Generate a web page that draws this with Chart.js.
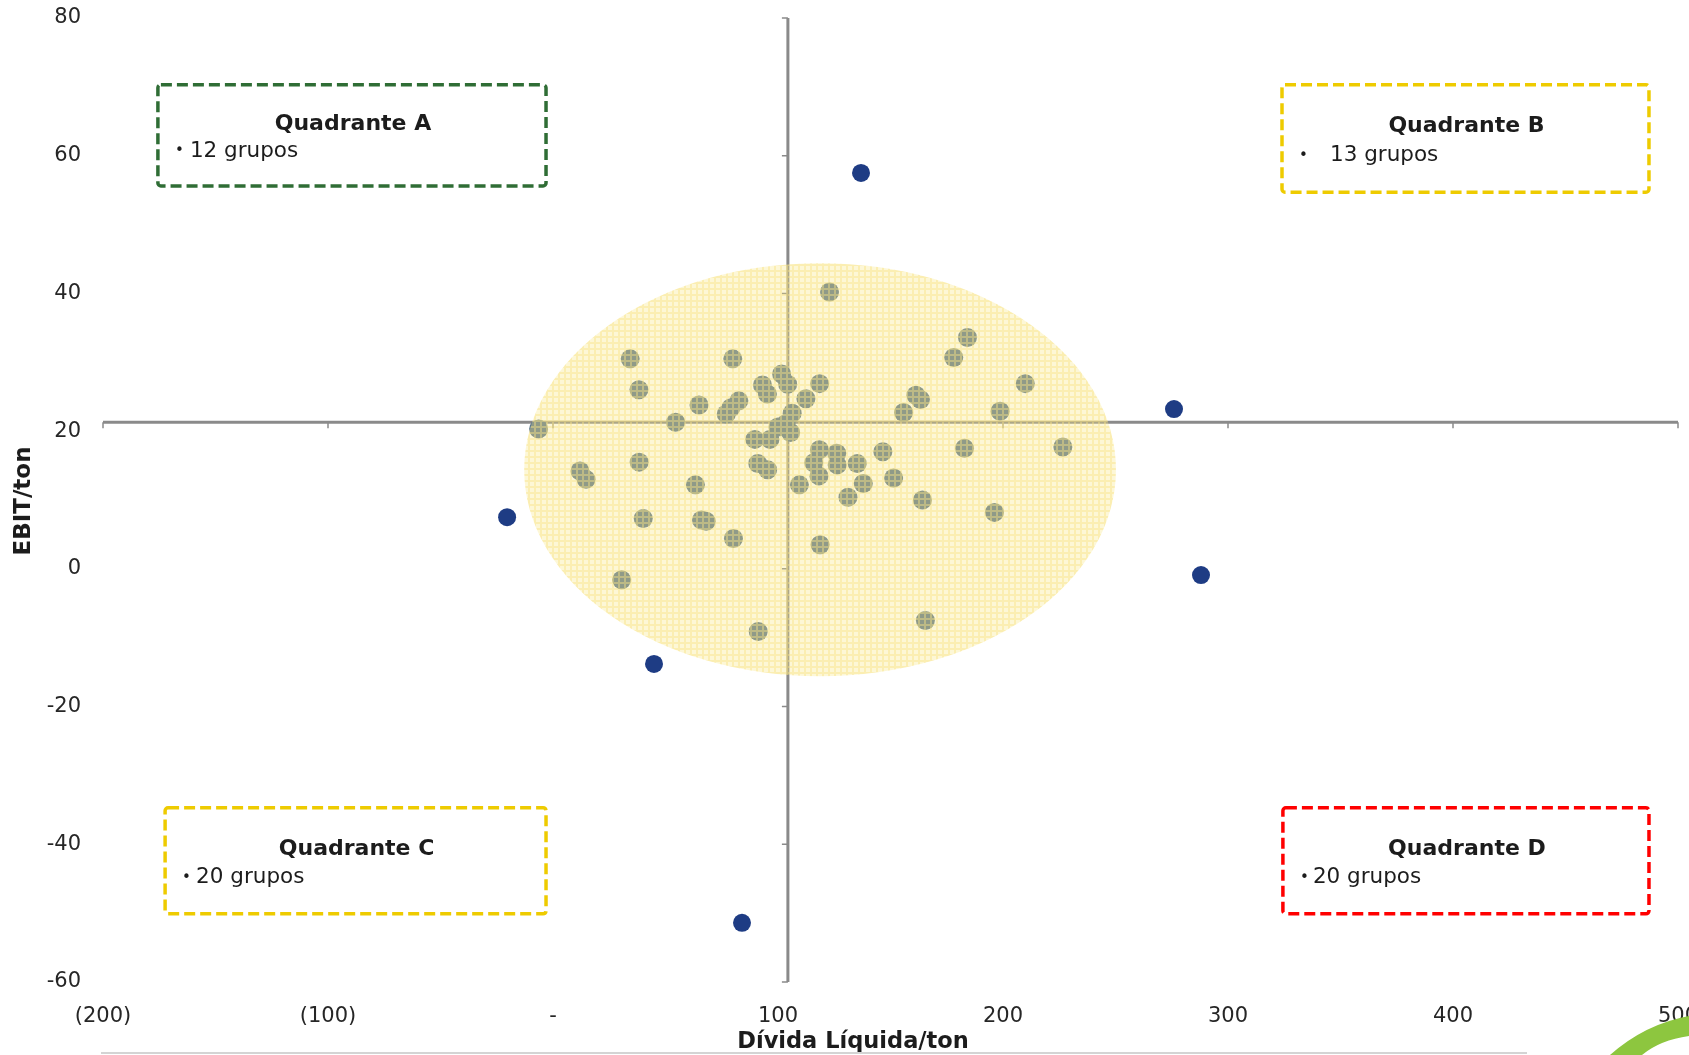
<!DOCTYPE html>
<html>
<head>
<meta charset="utf-8">
<title>EBIT/ton x Dívida Líquida/ton</title>
<script src="https://cdn.jsdelivr.net/npm/chart.js@4/dist/chart.umd.min.js"></script>
<style>
  html, body { margin: 0; padding: 0; background: #ffffff; }
  #wrap { width: 1689px; height: 1055px; position: relative; overflow: hidden; }
  canvas { display: block; }
</style>
</head>
<body>
<div id="wrap"><canvas id="chart" width="1689" height="1055"></canvas></div>
<script>
// Groups inside the central cloud: Dívida Líquida/ton (x) and EBIT/ton (y)
const groupDebt = [
  122.9, 184.2, 178.1, 34.3, 79.9, 209.9, 38.2, 101.6, 93.1, 95.3,
  104.3, 118.5, 112.4, 82.6, 79.1, 77.0, 64.9, 161.3, 163.3, 155.8,
  198.7, 54.5, 106.3, 103.6, 100.0, 105.6, -6.4, 96.4, 89.7, 182.9,
  226.6, 118.4, 146.6, 126.1, 115.9, 126.3, 135.2, 38.3, 91.0, 95.4,
  12.0, 14.7, 118.2, 151.4, 63.3, 109.5, 137.9, 131.1, 164.2, 196.2,
  40.1, 66.0, 68.1, 80.2, 118.7, 30.5, 91.2, 165.5
];
const groupEbit = [
  40.2, 33.6, 30.7, 30.5, 30.5, 26.9, 26.0, 28.3, 26.7, 25.4,
  26.8, 26.9, 24.7, 24.4, 23.4, 22.5, 23.8, 25.2, 24.6, 22.7,
  22.9, 21.3, 22.6, 21.1, 20.6, 19.8, 20.3, 18.8, 18.8, 17.5,
  17.7, 17.3, 17.0, 16.8, 15.4, 15.1, 15.3, 15.5, 15.3, 14.4,
  14.2, 13.0, 13.5, 13.2, 12.2, 12.2, 12.4, 10.4, 10.0, 8.2,
  7.3, 7.1, 6.9, 4.4, 3.5, -1.6, -9.1, -7.5
];

// Groups outside the cloud
const outlierDebt = [136.9, 276.0, 288.0, -20.4, 44.9, 84.0];
const outlierEbit = [57.5, 23.2, -0.9, 7.5, -13.8, -51.4];

// Axis ticks
const debtTicks = [-200, -100, 0, 100, 200, 300, 400, 500];
const ebitTicks = [-60, -40, -20, 0, 20, 40, 60, 80];

// Where the two axes cross
const debtCross = 104.4;
const ebitCross = 21.3;

// Central cloud (centre and half-widths, in axis units)
const cloudCentre = [118.7, 14.4];
const cloudRadius = [131.5, 30.0];

// Quadrant captions
const quadrantTitles = ['Quadrante A', 'Quadrante B', 'Quadrante C', 'Quadrante D'];
const quadrantCounts = ['12 grupos', '13 grupos', '20 grupos', '20 grupos'];

// Caption boxes: extents in axis units and look
const captionBoxes = [
  { x0: -175.6, x1: -3.1, y0: 70.3, y1: 55.6, color: '#2f6d35', bulletGap: 15 },
  { x0: 324.0, x1: 487.1, y0: 70.3, y1: 54.7, color: '#eecb00', bulletGap: 31 },
  { x0: -172.4, x1: -3.1, y0: -34.7, y1: -50.1, color: '#eecb00', bulletGap: 14 },
  { x0: 324.4, x1: 487.1, y0: -34.7, y1: -50.1, color: '#ff0000', bulletGap: 13 }
];

const FONT = '"DejaVu Sans", Verdana, sans-serif';
const TEXT = '#1c1c1c';

// Light yellow cross-hatch used to fill the cloud
function makeCloudPattern(ctx) {
  const p = document.createElement('canvas');
  p.width = 6; p.height = 6;
  const g = p.getContext('2d');
  g.fillStyle = 'rgba(248, 228, 130, 0.62)';
  g.fillRect(0, 0, 6, 6);
  g.clearRect(2, 2, 4, 4);
  g.fillStyle = 'rgba(250, 230, 128, 0.32)';
  g.fillRect(2, 2, 4, 4);
  return ctx.createPattern(p, 'repeat');
}

const decor = {
  id: 'decor',
  beforeDatasetsDraw(chart) {
    const { ctx, chartArea: a, scales: { x, y } } = chart;
    const px = x.getPixelForValue(debtCross);
    const py = y.getPixelForValue(ebitCross);
    ctx.save();
    ctx.strokeStyle = '#8a8a8a';
    ctx.lineWidth = 3;
    ctx.beginPath();
    ctx.moveTo(a.left, py); ctx.lineTo(a.right, py);
    ctx.moveTo(px, a.top); ctx.lineTo(px, a.bottom);
    ctx.stroke();
    ctx.lineWidth = 1.5;
    ctx.beginPath();
    debtTicks.forEach(v => {
      const t = x.getPixelForValue(v);
      ctx.moveTo(t, py); ctx.lineTo(t, py + 6);
    });
    ebitTicks.forEach(v => {
      const t = y.getPixelForValue(v);
      ctx.moveTo(px, t); ctx.lineTo(px - 6, t);
    });
    ctx.stroke();
    ctx.restore();
  },
  afterDatasetsDraw(chart) {
    const { ctx, scales: { x, y } } = chart;
    const cx = x.getPixelForValue(cloudCentre[0]);
    const cy = y.getPixelForValue(cloudCentre[1]);
    const rx = Math.abs(x.getPixelForValue(cloudCentre[0] + cloudRadius[0]) - cx);
    const ry = Math.abs(y.getPixelForValue(cloudCentre[1] + cloudRadius[1]) - cy);
    ctx.save();
    ctx.beginPath();
    ctx.ellipse(cx, cy, rx, ry, 0, 0, Math.PI * 2);
    ctx.fillStyle = makeCloudPattern(ctx);
    ctx.fill();
    ctx.restore();
  },
  afterDraw(chart) {
    const { ctx, scales: { x, y } } = chart;
    ctx.save();

    // Quadrant caption boxes
    captionBoxes.forEach((b, i) => {
      const l = x.getPixelForValue(b.x0), r = x.getPixelForValue(b.x1);
      const t = y.getPixelForValue(b.y0), btm = y.getPixelForValue(b.y1);
      ctx.setLineDash([11, 5]);
      ctx.lineWidth = 3.5;
      ctx.strokeStyle = b.color;
      ctx.beginPath();
      ctx.roundRect(l, t, r - l, btm - t, 3);
      ctx.stroke();
      ctx.setLineDash([]);
      const h = btm - t;
      ctx.fillStyle = TEXT;
      ctx.textBaseline = 'middle';
      ctx.textAlign = 'center';
      ctx.font = 'bold 22px ' + FONT;
      ctx.fillText(quadrantTitles[i], (l + r) / 2 + 1, t + h * 0.39);
      ctx.textAlign = 'left';
      ctx.font = '15px ' + FONT;
      ctx.fillText('\u2022', l + 17, t + h * 0.66);
      ctx.font = '21.5px ' + FONT;
      ctx.fillText(quadrantCounts[i], l + 17 + b.bulletGap, t + h * 0.66);
    });

    // Axis titles
    ctx.fillStyle = TEXT;
    ctx.font = 'bold 22.5px ' + FONT;
    ctx.textAlign = 'center';
    ctx.textBaseline = 'middle';
    ctx.fillText('D\u00edvida L\u00edquida/ton', 853, 1042);
    ctx.save();
    ctx.translate(24, 501);
    ctx.rotate(-Math.PI / 2);
    ctx.font = 'bold 23px ' + FONT;
    ctx.fillText('EBIT/ton', 0, 0);
    ctx.restore();

    // Footer rule and corner swoosh
    ctx.strokeStyle = '#d4d4d4';
    ctx.lineWidth = 2;
    ctx.beginPath();
    ctx.moveTo(101, 1053); ctx.lineTo(1527, 1053);
    ctx.stroke();
    ctx.fillStyle = '#8dc63f';
    ctx.beginPath();
    ctx.moveTo(1610, 1055);
    ctx.quadraticCurveTo(1645, 1024, 1689, 1016);
    ctx.lineTo(1689, 1036);
    ctx.quadraticCurveTo(1660, 1040, 1642, 1055);
    ctx.closePath();
    ctx.fill();
    ctx.restore();
  }
};

const toPoints = (xs, ys) => xs.map((v, i) => ({ x: v, y: ys[i] }));

new Chart(document.getElementById('chart'), {
  type: 'scatter',
  data: {
    datasets: [
      {
        label: 'Grupos',
        data: toPoints(groupDebt, groupEbit),
        backgroundColor: '#5d778c',
        borderWidth: 0,
        pointRadius: 9.5
      },
      {
        label: 'Grupos fora da nuvem',
        data: toPoints(outlierDebt, outlierEbit),
        backgroundColor: '#1e3c84',
        borderWidth: 0,
        pointRadius: 9
      }
    ]
  },
  options: {
    responsive: false,
    devicePixelRatio: 1,
    animation: false,
    events: [],
    layout: { padding: { top: 18, right: 11, left: 0, bottom: 0 } },
    plugins: { legend: { display: false }, tooltip: { enabled: false } },
    scales: {
      x: {
        type: 'linear',
        position: 'bottom',
        min: -200,
        max: 500,
        grid: { display: false, drawTicks: false },
        border: { display: false },
        afterBuildTicks: s => { s.ticks = debtTicks.map(v => ({ value: v })); },
        afterFit: s => { s.height = 73; s.paddingLeft = 0; s.paddingRight = 0; },
        ticks: {
          autoSkip: false,
          maxRotation: 0,
          padding: 22,
          color: '#262626',
          font: { family: FONT, size: 21 },
          callback: v => v < 0 ? '(' + (-v) + ')' : (v === 0 ? '-' : String(v))
        }
      },
      y: {
        type: 'linear',
        min: -60,
        max: 80,
        grid: { display: false, drawTicks: false },
        border: { display: false },
        afterBuildTicks: s => { s.ticks = ebitTicks.map(v => ({ value: v })); },
        afterFit: s => { s.width = 103; s.paddingTop = 0; s.paddingBottom = 0; },
        ticks: {
          autoSkip: false,
          padding: 22,
          color: '#262626',
          font: { family: FONT, size: 21 },
          callback: v => String(v)
        }
      }
    }
  },
  plugins: [decor]
});
</script>
</body>
</html>
